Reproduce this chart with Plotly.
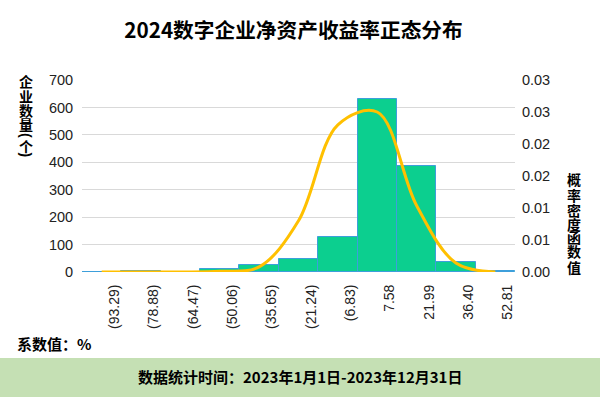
import plotly.graph_objects as go

# ---- data ----
categories = ["(93.29)", "(78.88)", "(64.47)", "(50.06)", "(35.65)", "(21.24)",
              "(6.83)", "7.58", "21.99", "36.40", "52.81"]
counts = [0, 5, 1, 12, 24, 46, 126, 632, 386, 35, 3]
pdf_values = [0.0, 0.0, 0.0, 0.0001, 0.0008, 0.0080, 0.0230, 0.0250, 0.0104, 0.0014, 0.0]
right_tick_vals = [0, 0.005, 0.01, 0.015, 0.02, 0.025, 0.03]
right_tick_text = ["0.00", "0.01", "0.01", "0.02", "0.02", "0.03", "0.03"]

title_text = "2024数字企业净资产收益率正态分布"
left_title_chars = ["企", "业", "数", "量", "(", "个", ")"]
right_title_chars = ["概", "率", "密", "度", "函", "数", "值"]
unit_text = "系数值：%"
footer_text = "数据统计时间：2023年1月1日-2023年12月31日"

# ---- layout geometry ----
W, H = 600, 397
ML, MR, MT, MB = 82, 85, 80, 125
PW, PH = W - ML - MR, H - MT - MB


def px(x):
    return (x - ML) / PW


def py(y):
    return 1 - (y - MT) / PH


FONT = "Liberation Sans, Arial, Noto Sans CJK SC, sans-serif"
CJK = "Noto Sans CJK SC, Liberation Sans, sans-serif"

x_idx = list(range(len(categories)))

fig = go.Figure()
fig.add_trace(go.Bar(
    x=x_idx, y=counts, width=1,
    marker=dict(color="#0ccf8f", line=dict(color="#3d9fdb", width=1)),
    yaxis="y", showlegend=False,
))
fig.add_trace(go.Scatter(
    x=x_idx, y=pdf_values, mode="lines",
    line=dict(color="#ffc000", width=3, shape="spline", smoothing=1.0),
    yaxis="y2", showlegend=False,
))

annotations = []
left_y = [80.5, 96, 110, 123.5, 136, 145.5, 155.5]
for ch, yy in zip(left_title_chars, left_y):
    is_paren = ch in "()"
    annotations.append(dict(text=ch, xref="paper", yref="paper", x=px(26), y=py(yy),
                            xanchor="center", yanchor="middle", showarrow=False,
                            textangle=90 if is_paren else 0,
                            font=dict(family=FONT if is_paren else CJK, size=14,
                                      color="#000", weight="bold")))
right_y = [179, 195, 209.5, 223.5, 237, 251, 266.5]
for ch, yy in zip(right_title_chars, right_y):
    annotations.append(dict(text=ch, xref="paper", yref="paper", x=px(574), y=py(yy),
                            xanchor="center", yanchor="middle", showarrow=False,
                            font=dict(family=CJK, size=14, color="#000", weight="bold")))
annotations.append(dict(text=unit_text, xref="paper", yref="paper", x=px(15), y=py(343.5),
                        xanchor="left", yanchor="middle", showarrow=False,
                        font=dict(family=CJK, size=15, color="#000", weight="bold")))
annotations.append(dict(text=footer_text, xref="paper", yref="paper", x=px(300), y=py(376),
                        xanchor="center", yanchor="middle", showarrow=False,
                        font=dict(family=CJK, size=15, color="#000", weight="bold")))

fig.update_layout(
    width=W, height=H,
    margin=dict(l=ML, r=MR, t=MT, b=MB, pad=0),
    paper_bgcolor="white", plot_bgcolor="white",
    bargap=0,
    title=dict(text=title_text, x=293.5 / W, xref="container", xanchor="center",
               y=1 - 31 / H, yref="container", yanchor="middle",
               font=dict(family=CJK, size=20.7, color="#000", weight="bold")),
    xaxis=dict(
        range=[-0.5, len(categories) - 0.5],
        tickvals=[i + 0.32 for i in x_idx], ticktext=categories,
        tickangle=-90, showgrid=False, zeroline=False, showline=False,
        ticks="outside", ticklen=6, tickcolor="rgba(0,0,0,0)",
        tickfont=dict(family=FONT, size=14, color="#222"),
    ),
    yaxis=dict(
        range=[0, 700], dtick=100, showgrid=True, gridcolor="#d9d9d9", gridwidth=1,
        zeroline=False, showline=False,
        ticks="outside", ticklen=5, tickcolor="rgba(0,0,0,0)",
        tickfont=dict(family=FONT, size=14.5, color="#222"),
    ),
    yaxis2=dict(
        range=[0, 0.03], overlaying="y", side="right",
        tickvals=right_tick_vals, ticktext=right_tick_text,
        showgrid=False, zeroline=False, showline=False,
        ticks="outside", ticklen=3, tickcolor="rgba(0,0,0,0)",
        tickfont=dict(family=FONT, size=14.5, color="#222"),
    ),
    shapes=[dict(type="rect", xref="paper", yref="paper",
                 x0=px(0), x1=px(W), y0=py(358), y1=py(H + 2),
                 fillcolor="#c5e0b4", line=dict(width=0), layer="below")],
    annotations=annotations,
)

fig.write_html("out.html",
               config={"displayModeBar": False},
               post_script="document.body.style.margin='0';document.body.style.padding='0';")
